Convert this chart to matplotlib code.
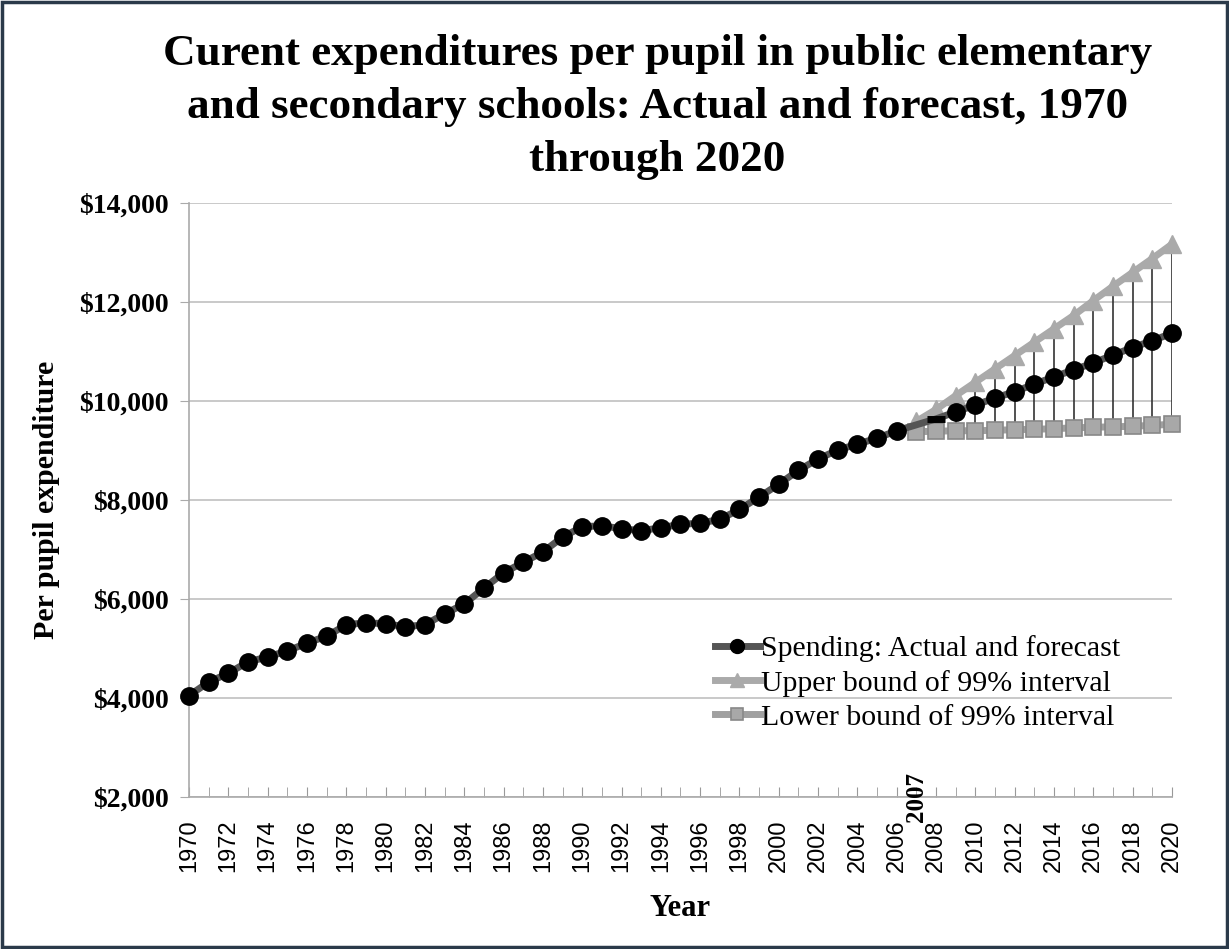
import numpy as np
import matplotlib
matplotlib.use("Agg")
import matplotlib.pyplot as plt
from matplotlib.ticker import FuncFormatter, MultipleLocator

# actual + forecast spending per pupil, 1970-2020
years = list(range(1970, 2021))
spending = [
    4050, 4320, 4500, 4730, 4830, 4950, 5110, 5250, 5480, 5520,
    5500, 5440, 5480, 5700, 5900, 6220, 6530, 6740, 6950, 7250,
    7460, 7480, 7420, 7380, 7440, 7510, 7530, 7610, 7810, 8060,
    8320, 8600, 8830, 9010, 9130, 9250, 9400, 9520, 9640, 9780,
    9920, 10060, 10190, 10340, 10490, 10630, 10770, 10930, 11080, 11220,
    11370,
]

forecast_years = list(range(2007, 2021))
upper = [9590, 9830, 10110, 10380, 10650, 10920, 11190, 11460, 11730,
         12030, 12320, 12600, 12880, 13170]
lower = [9380, 9390, 9400, 9400, 9410, 9420, 9430, 9440, 9460,
         9470, 9480, 9490, 9510, 9530]

serif = ["Liberation Serif", "DejaVu Serif"]
sans = ["Liberation Sans", "DejaVu Sans"]

fig = plt.figure(figsize=(12.29, 9.49), dpi=100)
ax = fig.add_axes([0.1538, 0.1602, 0.7998, 0.6258])

# spending markers: skip 2007 (hidden) and 2008 (drawn as dash)
idx_2007 = years.index(2007)
idx_2008 = years.index(2008)
mark_idx = [i for i in range(len(years)) if i not in (idx_2007, idx_2008)]

ax.vlines(forecast_years, lower, upper, color="#333333", linewidth=1.2, zorder=2)

ax.plot(forecast_years, upper, color="#aaaaaa", linewidth=5, marker="^",
        markersize=13, markerfacecolor="#aaaaaa", markeredgecolor="#aaaaaa",
        zorder=3, clip_on=False, label="Upper bound of 99% interval")
ax.plot(forecast_years, lower, color="#a0a0a0", linewidth=5, marker="s",
        markersize=11, markerfacecolor="#a8a8a8", markeredgecolor="#888888",
        markeredgewidth=1.2, zorder=3, clip_on=False,
        label="Lower bound of 99% interval")
line_sp, = ax.plot(years, spending, color="#555555", linewidth=5, marker="o",
                   markersize=12.5, markerfacecolor="black", markeredgecolor="black",
                   markevery=mark_idx, zorder=4, clip_on=False,
                   label="Spending: Actual and forecast")
ax.plot([2008], [spending[idx_2008]], marker="_", markersize=13,
        markeredgewidth=5, color="black", zorder=5)

ax.set_xlim(1970, 2020)
ax.set_ylim(2000, 14000)
ax.yaxis.set_major_locator(MultipleLocator(2000))
ax.yaxis.set_major_formatter(FuncFormatter(lambda v, p: f"${v:,.0f}"))
ax.set_xticks(list(range(1970, 2021, 2)))
ax.set_xticks(years, minor=True)
ax.grid(axis="y", color="#c0c0c0", linewidth=1.2)
ax.set_axisbelow(True)

for s in ["top", "right"]:
    ax.spines[s].set_visible(False)
for s in ["left", "bottom"]:
    ax.spines[s].set_color("#aaaaaa")
    ax.spines[s].set_linewidth(1.2)

ax.tick_params(axis="x", which="both", direction="in", length=7,
               color="#999999", pad=16)
ax.tick_params(axis="y", direction="out", length=6.5, color="#aaaaaa", pad=8)
for lbl in ax.get_xticklabels():
    lbl.set_rotation(90)
    lbl.set_fontfamily(sans)
    lbl.set_fontsize(17)
for lbl in ax.get_yticklabels():
    lbl.set_fontfamily(serif)
    lbl.set_fontsize(20)
    lbl.set_fontweight("bold")

ax.text(2007, 2000, "2007", rotation=90, ha="center", va="center",
        fontfamily=serif, fontweight="bold", fontsize=18, clip_on=False, zorder=6)

ax.set_xlabel("Year", fontfamily=serif, fontweight="bold", fontsize=22, labelpad=16)
ax.set_ylabel("Per pupil expenditure", fontfamily=serif, fontweight="bold",
              fontsize=21.5, labelpad=14)

fig.suptitle("Curent expenditures per pupil in public elementary\n"
             "and secondary schools: Actual and forecast, 1970\n"
             "through 2020", x=0.535, y=0.964, fontfamily=serif,
             fontweight="bold", fontsize=32.5, linespacing=1.42)

handles = [line_sp, ax.lines[0], ax.lines[1]]
leg = ax.legend(handles=handles, loc="lower right", bbox_to_anchor=(0.975, 0.066),
                frameon=False, prop={"family": serif, "size": 21.5},
                handlelength=1.5, handletextpad=0.05, labelspacing=0.25,
                markerscale=0.8)

# dark outer frame
fig.patches.append(plt.Rectangle((0.002, 0.002), 0.996, 0.996, fill=False,
                                 edgecolor="#2b3a4a", linewidth=2.5,
                                 transform=fig.transFigure, figure=fig))

fig.savefig("out.png", dpi=100)
